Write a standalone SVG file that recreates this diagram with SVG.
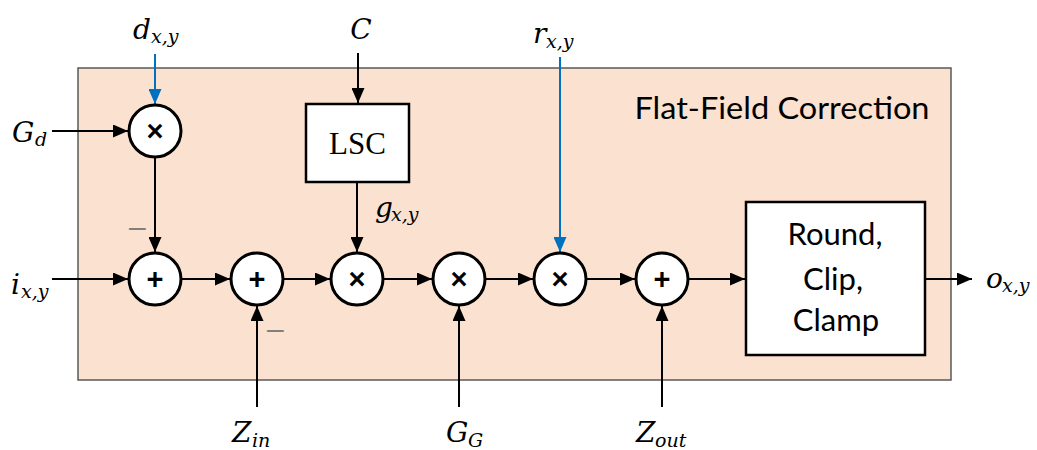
<svg xmlns="http://www.w3.org/2000/svg" width="1037" height="450" viewBox="0 0 1037 450">
<style>
.math{font-family:"DejaVu Serif","Liberation Serif",serif;font-style:italic;font-size:28px;fill:#000}
.sub{font-size:19px}
.op{font-family:"Liberation Sans",Arial,sans-serif;font-weight:bold;font-size:29px;fill:#000;text-anchor:middle}
.blk{font-family:Lato,"Open Sans",sans-serif;font-size:31px;fill:#000;text-anchor:middle}
.minus{font-family:"Liberation Sans",sans-serif;font-size:30px;fill:#808080}
.node circle{fill:#fff;stroke:#000;stroke-width:3}
.node rect{fill:#fff;stroke:#000;stroke-width:2.5}
.wire{stroke:#000;stroke-width:2;fill:none}
.blue{stroke:#0070C0;stroke-width:2;fill:none}
</style>
<defs>
<marker id="ah" viewBox="0 0 15 13" refX="15" refY="6.5" markerWidth="15" markerHeight="13" markerUnits="userSpaceOnUse" orient="auto"><path d="M0,0 L15,6.5 L0,13 z" fill="#000"/></marker>
<marker id="ahb" viewBox="0 0 15 13" refX="15" refY="6.5" markerWidth="15" markerHeight="13" markerUnits="userSpaceOnUse" orient="auto"><path d="M0,0 L15,6.5 L0,13 z" fill="#0070C0"/></marker>
</defs>
<g id="ffc-block">
<rect x="78" y="68" width="873" height="312" fill="#FBE1CF" stroke="#595959" stroke-width="1.5"/>
<text x="782" y="119" class="blk" font-size="31" textLength="295" lengthAdjust="spacingAndGlyphs">Flat-Field Correction</text>
</g>
<g id="connectors">
<line class="blue" x1="155" y1="54" x2="155" y2="104" marker-end="url(#ahb)"/>
<line class="wire" x1="52" y1="131" x2="128" y2="131" marker-end="url(#ah)"/>
<line class="wire" x1="155" y1="158" x2="155" y2="252" marker-end="url(#ah)"/>
<line class="wire" x1="52" y1="279" x2="128" y2="279" marker-end="url(#ah)"/>
<line class="wire" x1="182" y1="279" x2="230" y2="279" marker-end="url(#ah)"/>
<line class="wire" x1="284" y1="279" x2="330" y2="279" marker-end="url(#ah)"/>
<line class="wire" x1="384" y1="279" x2="432" y2="279" marker-end="url(#ah)"/>
<line class="wire" x1="486" y1="279" x2="533" y2="279" marker-end="url(#ah)"/>
<line class="wire" x1="587" y1="279" x2="635" y2="279" marker-end="url(#ah)"/>
<line class="wire" x1="689" y1="279" x2="745" y2="279" marker-end="url(#ah)"/>
<line class="wire" x1="358" y1="53" x2="358" y2="103" marker-end="url(#ah)"/>
<line class="wire" x1="357" y1="183" x2="357" y2="252" marker-end="url(#ah)"/>
<line class="blue" x1="560" y1="57" x2="560" y2="252" marker-end="url(#ahb)"/>
<line class="wire" x1="257" y1="407" x2="257" y2="306" marker-end="url(#ah)"/>
<line class="wire" x1="459" y1="407" x2="459" y2="306" marker-end="url(#ah)"/>
<line class="wire" x1="662" y1="407" x2="662" y2="306" marker-end="url(#ah)"/>
<line class="wire" x1="926" y1="279" x2="972" y2="279" marker-end="url(#ah)"/>
</g>
<g id="mul-d" class="node"><circle cx="155" cy="131" r="26"/><text x="155" y="141" class="op">×</text></g>
<g id="sub-d" class="node"><circle cx="155" cy="279" r="26"/><text x="155" y="289" class="op">+</text></g>
<g id="sub-zin" class="node"><circle cx="257" cy="279" r="26"/><text x="257" y="289" class="op">+</text></g>
<g id="mul-g" class="node"><circle cx="357" cy="279" r="26"/><text x="357" y="289" class="op">×</text></g>
<g id="mul-gg" class="node"><circle cx="459" cy="279" r="26"/><text x="459" y="289" class="op">×</text></g>
<g id="mul-r" class="node"><circle cx="560" cy="279" r="26"/><text x="560" y="289" class="op">×</text></g>
<g id="add-zout" class="node"><circle cx="662" cy="279" r="26"/><text x="662" y="289" class="op">+</text></g>
<g id="lsc" class="node"><rect x="306" y="104" width="103" height="78"/><text x="357.5" y="154" font-family="Liberation Serif,serif" font-size="31" text-anchor="middle">LSC</text></g>
<g id="round" class="node"><rect x="746" y="202" width="179" height="153"/>
<text class="blk" x="835" y="245">Round,</text><text class="blk" x="833" y="290">Clip,</text><text class="blk" x="836" y="331">Clamp</text></g>
<g id="labels">
<text class="math" x="133" y="39">d<tspan class="sub" x="151" y="43">x,y</tspan></text>
<text class="math" x="361" y="39" font-size="33" text-anchor="middle">C</text>
<text class="math" x="533" y="43">r<tspan class="sub" x="546" y="48">x,y</tspan></text>
<text class="math" x="12" y="142">G<tspan class="sub" x="35" y="146">d</tspan></text>
<text class="math" x="375" y="217">g<tspan class="sub" x="391" y="221">x,y</tspan></text>
<text class="math" x="11" y="294">i<tspan class="sub" x="21" y="298">x,y</tspan></text>
<text class="math" x="232" y="442">Z<tspan class="sub" x="252" y="447">in</tspan></text>
<text class="math" x="446" y="442">G<tspan class="sub" x="468" y="447">G</tspan></text>
<text class="math" x="636" y="442">Z<tspan class="sub" x="655" y="447">out</tspan></text>
<text class="math" x="986" y="288">o<tspan class="sub" x="1002" y="292">x,y</tspan></text>
<text class="minus" x="129" y="237">–</text>
<text class="minus" x="267" y="339">–</text>
</g>
</svg>
